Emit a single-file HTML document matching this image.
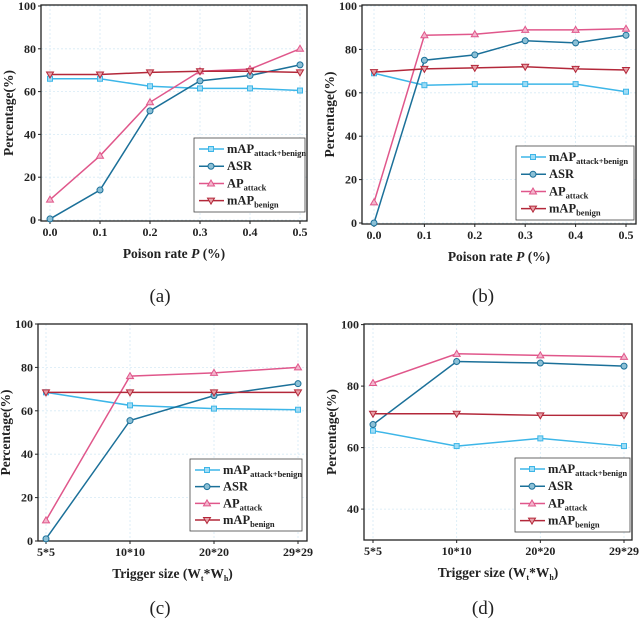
<!DOCTYPE html>
<html><head><meta charset="utf-8"><style>
html,body{margin:0;padding:0;background:#fff}
svg{display:block}
text{font-family:"Liberation Serif",serif;}
</style></head><body>
<svg id="c" width="640" height="626" viewBox="0 0 640 626" xmlns="http://www.w3.org/2000/svg"></svg>
<script>
const NS="http://www.w3.org/2000/svg";
const colors=["#3db6e8","#1b7099","#e0578b","#b3283a"];
// panel (a)
const catsA=["0.0","0.1","0.2","0.3","0.4","0.5"];
const a_mapab=[66,66,62.5,61.5,61.5,60.5];
const a_asr=[0.5,14,51,65,67.5,72.5];
const a_ap=[9.5,30,55,69.5,70.5,80];
const a_ben=[68,68,69,69.5,69.5,69];
// panel (b)
const catsB=["0.0","0.1","0.2","0.3","0.4","0.5"];
const b_mapab=[69,63.5,64,64,64,60.5];
const b_asr=[0,75,77.5,84,83,86.5];
const b_ap=[9.5,86.5,87,89,89,89.5];
const b_ben=[69.5,71,71.5,72,71,70.5];
// panel (c)
const catsC=["5*5","10*10","20*20","29*29"];
const c_mapab=[68.5,62.5,61,60.5];
const c_asr=[1,55.5,67,72.5];
const c_ap=[9.5,76,77.5,80];
const c_ben=[68.5,68.5,68.5,68.5];
// panel (d)
const catsD=["5*5","10*10","20*20","29*29"];
const d_mapab=[65.5,60.5,63,60.5];
const d_asr=[67.5,88,87.5,86.5];
const d_ap=[81,90.5,90,89.5];
const d_ben=[71,71,70.5,70.5];
const ticksA=[0,20,40,60,80,100];
const ticksD=[40,60,80,100];

const svg=document.getElementById('c');
function el(tag,attrs,parent){const e=document.createElementNS(NS,tag);for(const k in attrs)e.setAttribute(k,attrs[k]);(parent||svg).appendChild(e);return e;}

function marker(g,i,x,y){
  const c=colors[i];let m;
  if(i===0)m=el('rect',{x:x-2.5,y:y-2.5,width:5,height:5,fill:'#9fdcf5',stroke:c,'stroke-width':1},g);
  else if(i===1)m=el('circle',{cx:x,cy:y,r:3,fill:'#8cc0d6',stroke:c,'stroke-width':1},g);
  else if(i===2)m=el('path',{d:`M${x},${y-3.5}L${x+3.5},${y+2.5}L${x-3.5},${y+2.5}Z`,fill:'#f3b5cc',stroke:c,'stroke-width':1},g);
  else m=el('path',{d:`M${x},${y+3.5}L${x+3.5},${y-2.5}L${x-3.5},${y-2.5}Z`,fill:'#e8a0a8',stroke:c,'stroke-width':1},g);
  return m;
}

function panel(p){
  const g=el('g',{});
  
  
  const X=i=>p.x0+(p.x1-p.x0)*i/(p.cats.length-1);
  const Y=v=>p.yb-(v-p.ymin)/(p.ymax-p.ymin)*(p.yb-p.yt);
  p.ticks.forEach(t=>{el('line',{x1:p.L,x2:p.R,y1:Y(t),y2:Y(t),stroke:'#d6eaf5','stroke-width':0.8,'stroke-dasharray':'2,2'},g);});
  p.cats.forEach((c,i)=>{el('line',{x1:X(i),x2:X(i),y1:p.T,y2:p.B,stroke:'#d6eaf5','stroke-width':0.8,'stroke-dasharray':'2,2'},g);});
  const box=el('rect',{x:p.L,y:p.T,width:p.R-p.L,height:p.B-p.T,fill:'none',stroke:'#222','stroke-width':1.3},g);
  
  
  p.ticks.forEach(t=>{
    el('line',{x1:p.L,x2:p.L-3,y1:Y(t),y2:Y(t),stroke:'#222'},g);
    const tx=el('text',{x:p.L-5,y:Y(t)+4,'text-anchor':'end','font-size':12,'font-weight':'bold',fill:'#222'},g);
    tx.textContent=t;
    
    
  });
  p.cats.forEach((c,i)=>{
    el('line',{x1:X(i),x2:X(i),y1:p.B,y2:p.B+3,stroke:'#222'},g);
    const tx=el('text',{x:X(i),y:p.B+15,'text-anchor':'middle','font-size':12,'font-weight':'bold',fill:'#222'},g);
    tx.textContent=c;
    
    
  });
  const yt=el('text',{transform:`translate(${p.L-28},${(p.T+p.B)/2}) rotate(-90)`,'text-anchor':'middle','font-size':13.5,'font-weight':'bold',fill:'#222'},g);
  yt.textContent='Percentage(%)';
  
  
  const xt=el('text',{x:(p.L+p.R)/2,y:p.B+37,'text-anchor':'middle','font-size':13.5,'font-weight':'bold',fill:'#222'},g);
  xt.innerHTML=p.xtitle;
  
  
  p.series.forEach((s,si)=>{
    const sg=el('g',{},g);
    
    
    const pts=s.map((v,i)=>X(i)+','+Y(v)).join(' ');
    el('polyline',{points:pts,fill:'none',stroke:colors[si],'stroke-width':1.5},sg);
    s.forEach((v,i)=>{const m=marker(sg,si,X(i),Y(v));});
  });
  const lg=el('g',{},g);
  
  
  el('rect',{x:p.lx,y:p.ly,width:p.lw,height:p.lh,fill:'#fff',stroke:'#444','stroke-width':0.8},lg);
  const subs=['attack+benign','','attack','benign'];
  const names=['mAP','ASR','AP','mAP'];
  for(let i=0;i<4;i++){
    const yy=p.ly+11+i*(p.lh-12)/3.6;
    el('line',{x1:p.lx+5,x2:p.lx+30,y1:yy,y2:yy,stroke:colors[i],'stroke-width':1.5},lg);
    marker(lg,i,p.lx+17,yy);
    const t=el('text',{x:p.lx+33,y:yy+4,'font-size':12.5,'font-weight':'bold',fill:'#222'},lg);
    t.innerHTML=names[i]+(subs[i]?`<tspan font-size="8.5" dy="3">${subs[i]}</tspan>`:'');
    
    
  }
  const cap=el('text',{x:p.capx,y:p.capy,'text-anchor':'middle','font-size':19,fill:'#222'},g);
  cap.textContent=p.cap;
  
  
}
const xtP='Poison rate <tspan font-style="italic">P</tspan> (%)';
const xtT='Trigger size (W<tspan font-size="8" dy="3">t</tspan><tspan dy="-3">*W</tspan><tspan font-size="8" dy="3">h</tspan><tspan dy="-3">)</tspan>';
panel({id:'a',L:41,R:307,T:5,B:221,x0:50,x1:300,yt:6,yb:220,ymin:0,ymax:100,ticks:ticksA,cats:catsA,series:[a_mapab,a_asr,a_ap,a_ben],xtitle:xtP,lx:194,ly:138,lw:111,lh:74,cap:'(a)',capx:160,capy:302});
panel({id:'b',L:362,R:636,T:5,B:224,x0:374,x1:626,yt:6,yb:223,ymin:0,ymax:100,ticks:ticksA,cats:catsB,series:[b_mapab,b_asr,b_ap,b_ben],xtitle:xtP,lx:516,ly:146,lw:118,lh:74,cap:'(b)',capx:483,capy:302});
panel({id:'c',L:38,R:307,T:324,B:541,x0:46,x1:298,yt:324,yb:541,ymin:0,ymax:100,ticks:ticksA,cats:catsC,series:[c_mapab,c_asr,c_ap,c_ben],xtitle:xtT,lx:190,ly:459,lw:112,lh:72,cap:'(c)',capx:160,capy:614});
panel({id:'d',L:364,R:632,T:324,B:540,x0:373,x1:624,yt:324.6,yb:509.1,ymin:40,ymax:100,ticks:ticksD,cats:catsD,series:[d_mapab,d_asr,d_ap,d_ben],xtitle:xtT,lx:515,ly:458,lw:115,lh:74,cap:'(d)',capx:483,capy:614});
</script>
</body></html>
